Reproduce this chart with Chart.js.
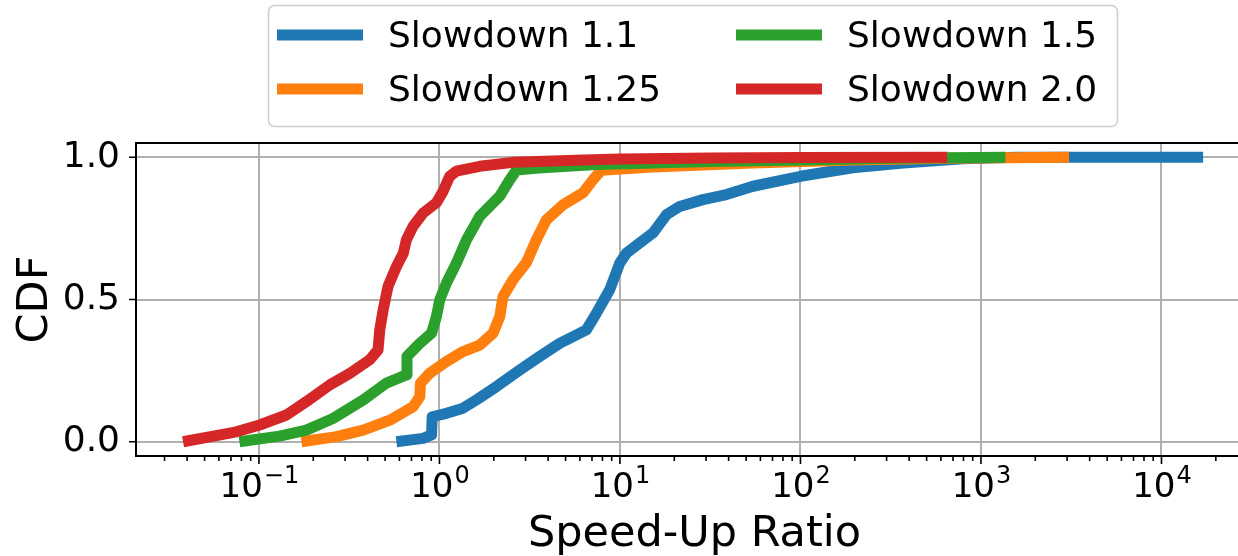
<!DOCTYPE html>
<html>
<head>
<meta charset="utf-8">
<script src="https://cdn.jsdelivr.net/npm/chart.js@4"></script>
<style>
    html, body { margin: 0; padding: 0; background: #fff; overflow: hidden; }
    canvas { display: block; }
</style>
</head>
<body>
<canvas id="myChart" width="1260" height="556"></canvas>
<script>
const seriesLabels = ["Slowdown 1.1", "Slowdown 1.25", "Slowdown 1.5", "Slowdown 2.0"]
const seriesColors = ['#1f77b4', '#ff7f0e', '#2ca02c', '#d62728']

// speed-up ratio (x) and CDF (y) for each slowdown
const speedup11 = [0.578, 0.811, 0.904, 0.912, 1.094, 1.352, 1.603, 2.07, 2.786, 3.597, 4.634, 6.516, 7.413, 8.77, 9.977,
    10.86, 12.88, 15.24, 18.11, 21.43, 28.84, 38.9, 54.6, 100, 195, 371.5, 794, 1585, 17000]
const cdf11 = [0, 0.012, 0.024, 0.088, 0.1, 0.118, 0.147, 0.194, 0.252, 0.3, 0.346, 0.393, 0.452, 0.534, 0.628,
    0.663, 0.699, 0.734, 0.798, 0.827, 0.851, 0.869, 0.898, 0.933, 0.963, 0.98, 0.995, 1.0, 1.0]

const speedup125 = [0.172, 0.269, 0.378, 0.531, 0.714, 0.778, 0.785, 0.883, 1.094, 1.352, 1.671, 1.982, 2.158, 2.249,
    2.559, 3.034, 3.443, 3.917, 4.842, 6.252, 7.096, 7.889, 15.14, 54.6, 195, 631, 3076]
const cdf125 = [0, 0.018, 0.041, 0.076, 0.123, 0.158, 0.206, 0.241, 0.282, 0.317, 0.34, 0.382, 0.44, 0.51,
    0.57, 0.63, 0.71, 0.78, 0.833, 0.875, 0.921, 0.954, 0.966, 0.98, 0.99, 0.996, 1.0]

const speedup15 = [0.078, 0.13, 0.183, 0.257, 0.378, 0.508, 0.656, 0.661, 0.778, 0.904, 0.962, 1.005, 1.094, 1.242,
    1.413, 1.671, 2.158, 2.455, 2.673, 3.548, 7.41, 31.6, 100, 316, 1365]
const cdf15 = [0, 0.02, 0.041, 0.082, 0.147, 0.206, 0.235, 0.3, 0.346, 0.382, 0.44, 0.5, 0.558, 0.628,
    0.71, 0.792, 0.863, 0.921, 0.955, 0.962, 0.974, 0.985, 0.99, 0.996, 1.0]

const speedup20 = [0.038, 0.075, 0.101, 0.142, 0.183, 0.247, 0.318, 0.411, 0.457, 0.467, 0.488, 0.519, 0.578, 0.631,
    0.656, 0.714, 0.813, 0.962, 1.047, 1.14, 1.242, 1.671, 2.559, 6.31, 10, 31.6, 100, 650]
const cdf20 = [0, 0.035, 0.059, 0.094, 0.141, 0.2, 0.24, 0.288, 0.323, 0.393, 0.464, 0.546, 0.616, 0.663,
    0.71, 0.757, 0.804, 0.84, 0.88, 0.933, 0.951, 0.968, 0.982, 0.99, 0.994, 0.997, 0.999, 1.0]

const yTicks = [0.0, 0.5, 1.0]
const xDecades = [-1, 0, 1, 2, 3, 4]
const xMin = Math.pow(10, -1.681)
const xMax = Math.pow(10, 4.507)
const yMin = -0.05
const yMax = 1.05

const fontFamily = "'DejaVu Sans', 'Liberation Sans', sans-serif"

function toPoints(xs, ys) {
    return xs.map(function (x, i) {
        return { x: x, y: ys[i] }
    })
}

const allX = [speedup11, speedup125, speedup15, speedup20]
const allY = [cdf11, cdf125, cdf15, cdf20]

const datasets = seriesLabels.map(function (label, i) {
    return {
        label: label,
        data: toPoints(allX[i], allY[i]),
        borderColor: seriesColors[i],
        backgroundColor: seriesColors[i],
        borderWidth: 11,
        borderJoinStyle: 'round',
        borderCapStyle: 'butt',
        pointRadius: 0,
        tension: 0,
        fill: false,
        order: 3 - i
    }
})

// spines, tick marks, superscript x labels and the boxed legend
const plotExtras = {
    id: 'plotExtras',
    afterDraw: function (chart) {
        const ctx = chart.ctx
        const area = chart.chartArea
        const xs = chart.scales.x
        const ys = chart.scales.y
        ctx.save()

        ctx.strokeStyle = '#000'
        ctx.lineWidth = 2
        ctx.strokeRect(area.left, area.top, area.right - area.left, area.bottom - area.top)

        // x tick marks, major and minor
        ctx.lineWidth = 1.6
        ctx.beginPath()
        for (let e = -2; e <= 4; e++) {
            for (let m = 1; m <= 9; m++) {
                const v = m * Math.pow(10, e)
                if (v < xs.min || v > xs.max) continue
                const px = xs.getPixelForValue(v)
                const len = m === 1 ? 8 : 5
                ctx.moveTo(px, area.bottom)
                ctx.lineTo(px, area.bottom + len)
            }
        }
        // y tick marks
        yTicks.forEach(function (v) {
            const py = ys.getPixelForValue(v)
            ctx.moveTo(area.left, py)
            ctx.lineTo(area.left - 7, py)
        })
        ctx.stroke()

        // x tick labels 10^n
        ctx.fillStyle = '#000'
        ctx.textBaseline = 'alphabetic'
        ctx.textAlign = 'left'
        xDecades.forEach(function (e) {
            const px = xs.getPixelForValue(Math.pow(10, e))
            const base = '10'
            const sup = e < 0 ? '\u2212' + Math.abs(e) : String(e)
            ctx.font = '34px ' + fontFamily
            const wBase = ctx.measureText(base).width
            ctx.font = '24px ' + fontFamily
            const wSup = ctx.measureText(sup).width
            const start = px - (wBase + wSup) / 2
            ctx.font = '34px ' + fontFamily
            ctx.fillText(base, start, area.bottom + 41)
            ctx.font = '24px ' + fontFamily
            ctx.fillText(sup, start + wBase + 1, area.bottom + 27)
        })

        // legend, two columns
        const box = { left: 268.5, top: 5.5, width: 849, height: 121 }
        ctx.beginPath()
        ctx.roundRect(box.left, box.top, box.width, box.height, 6)
        ctx.fillStyle = 'rgba(255,255,255,0.8)'
        ctx.fill()
        ctx.strokeStyle = '#cccccc'
        ctx.lineWidth = 1.5
        ctx.stroke()

        const colX = [277, 736]
        const rowY = [35, 89]
        ctx.font = '36px ' + fontFamily
        ctx.textBaseline = 'alphabetic'
        chart.data.datasets.forEach(function (ds, i) {
            const cx = colX[Math.floor(i / 2)]
            const cy = rowY[i % 2]
            ctx.strokeStyle = ds.borderColor
            ctx.lineWidth = 11
            ctx.lineCap = 'butt'
            ctx.beginPath()
            ctx.moveTo(cx, cy)
            ctx.lineTo(cx + 86, cy)
            ctx.stroke()
            ctx.fillStyle = '#000'
            ctx.fillText(ds.label, cx + 111, cy + 12)
        })
        ctx.restore()
    }
}

const config = {
    type: 'line',
    data: { datasets: datasets },
    options: {
        responsive: false,
        animation: false,
        layout: { padding: { top: 143, right: 7, left: 0, bottom: 0 } },
        plugins: {
            legend: { display: false },
            tooltip: { enabled: false }
        },
        scales: {
            x: {
                type: 'logarithmic',
                min: xMin,
                max: xMax,
                afterBuildTicks: function (scale) {
                    scale.ticks = xDecades.map(function (e) { return { value: Math.pow(10, e) } })
                },
                afterFit: function (scale) { scale.height = 100 },
                ticks: { display: false },
                grid: { color: '#b0b0b0', lineWidth: 2, drawTicks: false },
                border: { display: false },
                title: {
                    display: true,
                    text: 'Speed-Up Ratio',
                    color: '#000',
                    font: { family: fontFamily, size: 43, lineHeight: 1.0 },
                    padding: 0
                }
            },
            y: {
                type: 'linear',
                min: yMin,
                max: yMax,
                afterBuildTicks: function (scale) {
                    scale.ticks = yTicks.map(function (v) { return { value: v } })
                },
                afterFit: function (scale) { scale.width = 136 },
                ticks: {
                    color: '#000',
                    padding: 16,
                    font: { family: fontFamily, size: 36 },
                    callback: function (v) { return Number(v).toFixed(1) }
                },
                grid: { color: '#b0b0b0', lineWidth: 2, drawTicks: false },
                border: { display: false },
                title: {
                    display: true,
                    text: 'CDF',
                    color: '#000',
                    font: { family: fontFamily, size: 43, lineHeight: 1.0 },
                    padding: { top: 14, bottom: 0 }
                }
            }
        }
    },
    plugins: [plotExtras]
}

const myChart = new Chart(document.getElementById('myChart'), config)
</script>
</body>
</html>
